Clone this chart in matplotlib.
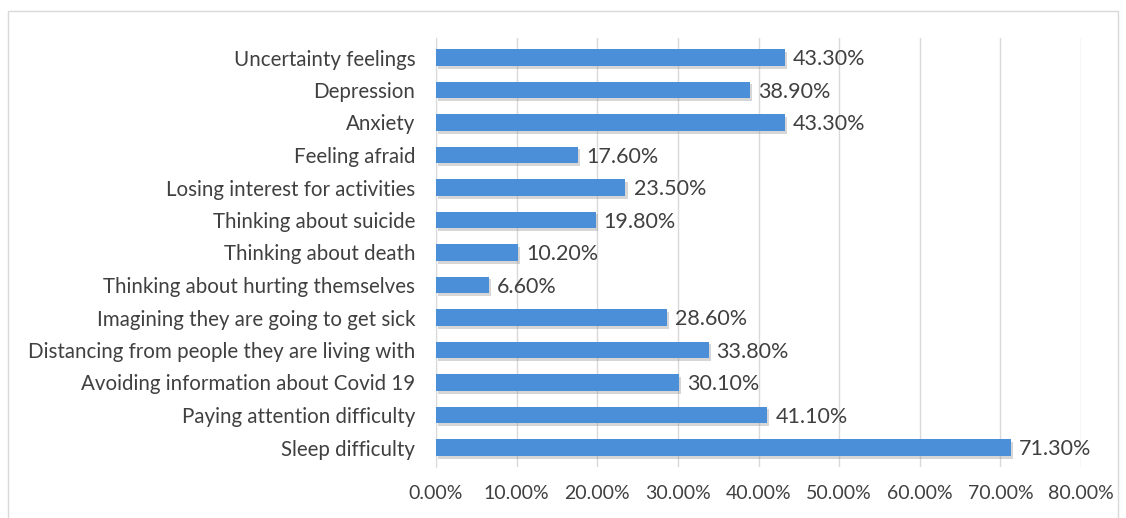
import matplotlib
matplotlib.use("Agg")
import matplotlib.pyplot as plt
import matplotlib.patheffects as pe
from matplotlib.patches import Rectangle

# Data (top to bottom as in the chart)
categories = [
    "Uncertainty feelings",
    "Depression",
    "Anxiety",
    "Feeling afraid",
    "Losing interest for activities",
    "Thinking about suicide",
    "Thinking about death",
    "Thinking about hurting themselves",
    "Imagining they are going to get sick",
    "Distancing from people they are living with",
    "Avoiding information about Covid 19",
    "Paying attention difficulty",
    "Sleep difficulty",
]
values = [43.3, 38.9, 43.3, 17.6, 23.5, 19.8, 10.2, 6.6, 28.6, 33.8, 30.1, 41.1, 71.3]
x_ticks = [0, 10, 20, 30, 40, 50, 60, 70, 80]

plt.rcParams['font.family'] = ['Lato', 'DejaVu Sans']

W, H = 1126, 518
fig = plt.figure(figsize=(W / 100, H / 100), dpi=100)
ax = fig.add_axes([436 / W, 1 - 467 / H, (1081 - 436) / W, (467 - 38) / H])

# outer chart frame
fig.patches.append(Rectangle((8 / W, -0.01), (1118 - 8) / W, (518 - 11) / H + 0.01,
                             transform=fig.transFigure, fill=False,
                             edgecolor="#d9d9d9", linewidth=1))

y = list(range(len(categories)))[::-1]
bars = ax.barh(y, values, height=0.52, color="#4a8fd8", zorder=3)
for b in bars:
    b.set_path_effects([pe.SimplePatchShadow(offset=(1.5, -2), shadow_rgbFace="#9a9a9a", alpha=0.4),
                        pe.Normal()])

for yi, v in zip(y, values):
    ax.text(v + 1.0, yi - 0.05, f"{v:.2f}%", va="center", ha="left", fontsize=15.5, color="#404040")

ax.set_xlim(0, 80)
ax.set_ylim(-0.6, len(categories) - 0.4)
ax.set_xticks(x_ticks)
ax.set_xticklabels([f"{t:.2f}%" for t in x_ticks], fontsize=14, color="#404040")
ax.set_yticks(y)
ax.set_yticklabels(categories, fontsize=14.8, color="#404040")
ax.tick_params(axis="both", length=0)
ax.tick_params(axis="x", pad=13)
ax.tick_params(axis="y", pad=15)

ax.grid(axis="x", color="#d9d9d9", linewidth=1, zorder=0)
for s in ["top", "right", "bottom"]:
    ax.spines[s].set_visible(False)
ax.spines["left"].set_color("#d9d9d9")

fig.savefig("out.png", dpi=100)
